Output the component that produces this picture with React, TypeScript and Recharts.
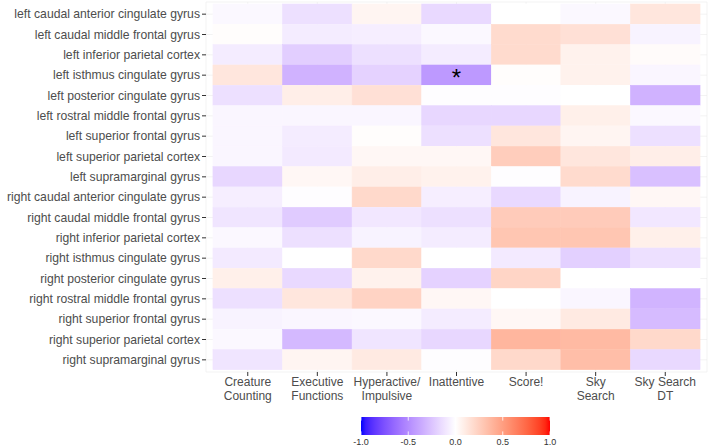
import { BarChart, Bar, XAxis, YAxis, CartesianGrid } from "recharts";

const regions = [
  "left caudal anterior cingulate gyrus",
  "left caudal middle frontal gyrus",
  "left inferior parietal cortex",
  "left isthmus cingulate gyrus",
  "left posterior cingulate gyrus",
  "left rostral middle frontal gyrus",
  "left superior frontal gyrus",
  "left superior parietal cortex",
  "left supramarginal gyrus",
  "right caudal anterior cingulate gyrus",
  "right caudal middle frontal gyrus",
  "right inferior parietal cortex",
  "right isthmus cingulate gyrus",
  "right posterior cingulate gyrus",
  "right rostral middle frontal gyrus",
  "right superior frontal gyrus",
  "right superior parietal cortex",
  "right supramarginal gyrus",
];

const measures = [
  "Creature Counting",
  "Executive Functions",
  "Hyperactive/ Impulsive",
  "Inattentive",
  "Score!",
  "Sky Search",
  "Sky Search DT",
];

// tick labels as they wrap under the columns
const measureLabels = [
  ["Creature", "Counting"],
  ["Executive", "Functions"],
  ["Hyperactive/", "Impulsive"],
  ["Inattentive"],
  ["Score!"],
  ["Sky", "Search"],
  ["Sky Search", "DT"],
];

// correlation per region (same order as regions), one array per measure
const creatureCounting = [-0.03, 0.01, -0.08, 0.13, -0.13, -0.04, -0.04, -0.04, -0.17, -0.07, -0.11, -0.03, -0.09, 0.08, -0.13, -0.05, -0.03, -0.11];
const executiveFunctions = [-0.13, -0.08, -0.21, -0.33, 0.09, -0.04, -0.08, -0.09, 0.04, -0.01, -0.22, -0.13, 0.0, -0.16, 0.13, -0.04, -0.3, 0.05];
const hyperactive = [0.05, -0.07, -0.13, -0.19, 0.16, -0.04, 0.01, 0.04, 0.09, 0.2, -0.1, -0.05, 0.2, 0.07, 0.23, -0.03, -0.11, 0.11];
const inattentive = [-0.16, -0.03, -0.08, -0.44, -0.01, -0.17, -0.13, 0.04, 0.07, -0.07, -0.13, -0.08, 0.0, -0.19, 0.04, -0.08, -0.17, -0.01];
const score = [0.0, 0.19, 0.19, 0.01, -0.01, -0.17, 0.13, 0.26, -0.01, -0.16, 0.27, 0.3, -0.09, 0.22, 0.0, 0.04, 0.38, 0.2];
const skySearch = [-0.03, 0.16, 0.07, 0.07, 0.0, 0.08, 0.05, 0.13, 0.19, -0.05, 0.27, 0.3, -0.2, 0.0, -0.04, 0.11, 0.36, 0.34];
const skySearchDT = [0.13, -0.05, 0.02, -0.04, -0.33, -0.03, -0.13, 0.09, -0.27, 0.04, -0.1, 0.08, -0.13, 0.0, -0.32, -0.29, 0.2, -0.16];

const seriesValues = [creatureCounting, executiveFunctions, hyperactive, inattentive, score, skySearch, skySearchDT];

// significant cells: [region, measure]
const significant = [["left isthmus cingulate gyrus", "Inattentive"]];

const legendBreaks = [-1, -0.5, 0, 0.5, 1];

const rows = regions.map((region, i) => {
  const row: Record<string, any> = { region };
  measures.forEach((m, j) => {
    row[m] = seriesValues[j][i];
  });
  return row;
});

// --- colour scale: blue / white / red interpolated in Lab like ggplot's gradient2
const WHITE = [95.047, 100, 108.883];
function toLinear(c: number) {
  c /= 255;
  return c <= 0.04045 ? c / 12.92 : Math.pow((c + 0.055) / 1.055, 2.4);
}
function fromLinear(c: number) {
  const v = c <= 0.0031308 ? 12.92 * c : 1.055 * Math.pow(c, 1 / 2.4) - 0.055;
  return Math.round(Math.max(0, Math.min(1, v)) * 255);
}
function rgbToLab([r, g, b]: number[]) {
  const R = toLinear(r), G = toLinear(g), B = toLinear(b);
  const x = (0.4124 * R + 0.3576 * G + 0.1805 * B) * 100 / WHITE[0];
  const y = (0.2126 * R + 0.7152 * G + 0.0722 * B) * 100 / WHITE[1];
  const z = (0.0193 * R + 0.1192 * G + 0.9505 * B) * 100 / WHITE[2];
  const f = (t: number) => (t > 0.008856 ? Math.cbrt(t) : 7.787 * t + 16 / 116);
  const fx = f(x), fy = f(y), fz = f(z);
  return [116 * fy - 16, 500 * (fx - fy), 200 * (fy - fz)];
}
function labToRgb([L, a, bb]: number[]) {
  const fy = (L + 16) / 116;
  const fx = fy + a / 500;
  const fz = fy - bb / 200;
  const inv = (t: number) => (t ** 3 > 0.008856 ? t ** 3 : (t - 16 / 116) / 7.787);
  const x = inv(fx) * WHITE[0] / 100;
  const y = inv(fy) * WHITE[1] / 100;
  const z = inv(fz) * WHITE[2] / 100;
  const R = 3.2406 * x - 1.5372 * y - 0.4986 * z;
  const G = -0.9689 * x + 1.8758 * y + 0.0415 * z;
  const B = 0.0557 * x - 0.204 * y + 1.057 * z;
  return [fromLinear(R), fromLinear(G), fromLinear(B)];
}
const LAB_LOW = rgbToLab([0, 0, 255]);
const LAB_MID = rgbToLab([255, 255, 255]);
const LAB_HIGH = rgbToLab([255, 0, 0]);
function colorFor(v: number) {
  const t = Math.min(1, Math.abs(v));
  const end = v < 0 ? LAB_LOW : LAB_HIGH;
  const lab = LAB_MID.map((m, k) => m + (end[k] - m) * t);
  const [r, g, b] = labToRgb(lab);
  return `rgb(${r},${g},${b})`;
}

const FONT = "'Liberation Sans', Arial, sans-serif";

function MeasureTick(props: any) {
  const { x, y, payload } = props;
  const lines = measureLabels[Math.round(payload.value - 0.5)] || [];
  return (
    <text x={x} y={y} textAnchor="middle" fontSize={12} fill="#4d4d4d" fontFamily={FONT}>
      {lines.map((l, k) => (
        <tspan key={k} x={x} dy={k === 0 ? 8 : 14}>
          {l}
        </tspan>
      ))}
    </text>
  );
}

function RegionTick(props: any) {
  const { x, y, payload } = props;
  return (
    <text x={x} y={y} dy={4.3} textAnchor="end" fontSize={12.2} fill="#4d4d4d" fontFamily={FONT}>
      {payload.value}
    </text>
  );
}

function makeTile(measure: string) {
  return (props: any) => {
    const { x, y, width, height, payload } = props;
    const fill = colorFor(payload[measure]);
    const sig = significant.some(([r, m]) => r === payload.region && m === measure);
    return (
      <g>
        <rect x={x} y={y} width={width} height={height} fill={fill} stroke={fill} strokeWidth={0.6} />
        {sig && (
          <text x={x + width / 2} y={y + height / 2 + 11} textAnchor="middle" fontSize={24} fill="#000" fontFamily={FONT}>
            *
          </text>
        )}
      </g>
    );
  };
}

function ColorBar() {
  const left = 361;
  const top = 417;
  const w = 189;
  const h = 18;
  const stops = Array.from({ length: 41 }, (_, k) => -1 + k * 0.05);
  const pos = (v: number) => left + ((v + 1) / 2) * w;
  return (
    <svg width={709} height={448} style={{ position: "absolute", left: 0, top: 0, pointerEvents: "none" }}>
      <defs>
        <linearGradient id="fillScale" x1="0" x2="1" y1="0" y2="0">
          {stops.map((v, k) => (
            <stop key={k} offset={`${(k / (stops.length - 1)) * 100}%`} stopColor={colorFor(v)} />
          ))}
        </linearGradient>
      </defs>
      <rect x={left} y={top} width={w} height={h} fill="url(#fillScale)" />
      {legendBreaks.map((b) => (
        <g key={b}>
          <line x1={pos(b)} x2={pos(b)} y1={top} y2={top + 3.6} stroke="#fff" strokeWidth={0.8} />
          <line x1={pos(b)} x2={pos(b)} y1={top + h - 3.6} y2={top + h} stroke="#fff" strokeWidth={0.8} />
          <text x={pos(b)} y={top + h + 10} textAnchor="middle" fontSize={9} fill="#333" fontFamily={FONT}>
            {b.toFixed(1)}
          </text>
        </g>
      ))}
    </svg>
  );
}

export default function App() {
  return (
    <div style={{ position: "absolute", left: 0, top: 0, width: 709, height: 448, background: "#fff" }}>
      <BarChart
        width={709}
        height={448}
        data={rows}
        layout="vertical"
        margin={{ top: 2, right: 2, bottom: 36, left: 0 }}
        barCategoryGap={0}
        barGap={0}
      >
        <CartesianGrid stroke="#ebebeb" strokeWidth={0.6} />
        <XAxis
          type="number"
          domain={[-0.1, 7.1]}
          allowDataOverflow
          ticks={[0.5, 1.5, 2.5, 3.5, 4.5, 5.5, 6.5]}
          interval={0}
          axisLine={false}
          tickLine={{ stroke: "#333" }}
          tickSize={4}
          tickMargin={2}
          height={40}
          tick={<MeasureTick />}
        />
        <YAxis
          type="category"
          dataKey="region"
          width={206}
          padding={{ top: 2, bottom: 2 }}
          axisLine={false}
          tickLine={{ stroke: "#333" }}
          tickSize={4}
          tickMargin={2}
          interval={0}
          tick={<RegionTick />}
        />
        {measures.map((m) => (
          <Bar
            key={m}
            name={m}
            dataKey={() => 1}
            stackId="tiles"
            isAnimationActive={false}
            shape={makeTile(m)}
          />
        ))}
      </BarChart>
      <ColorBar />
    </div>
  );
}
